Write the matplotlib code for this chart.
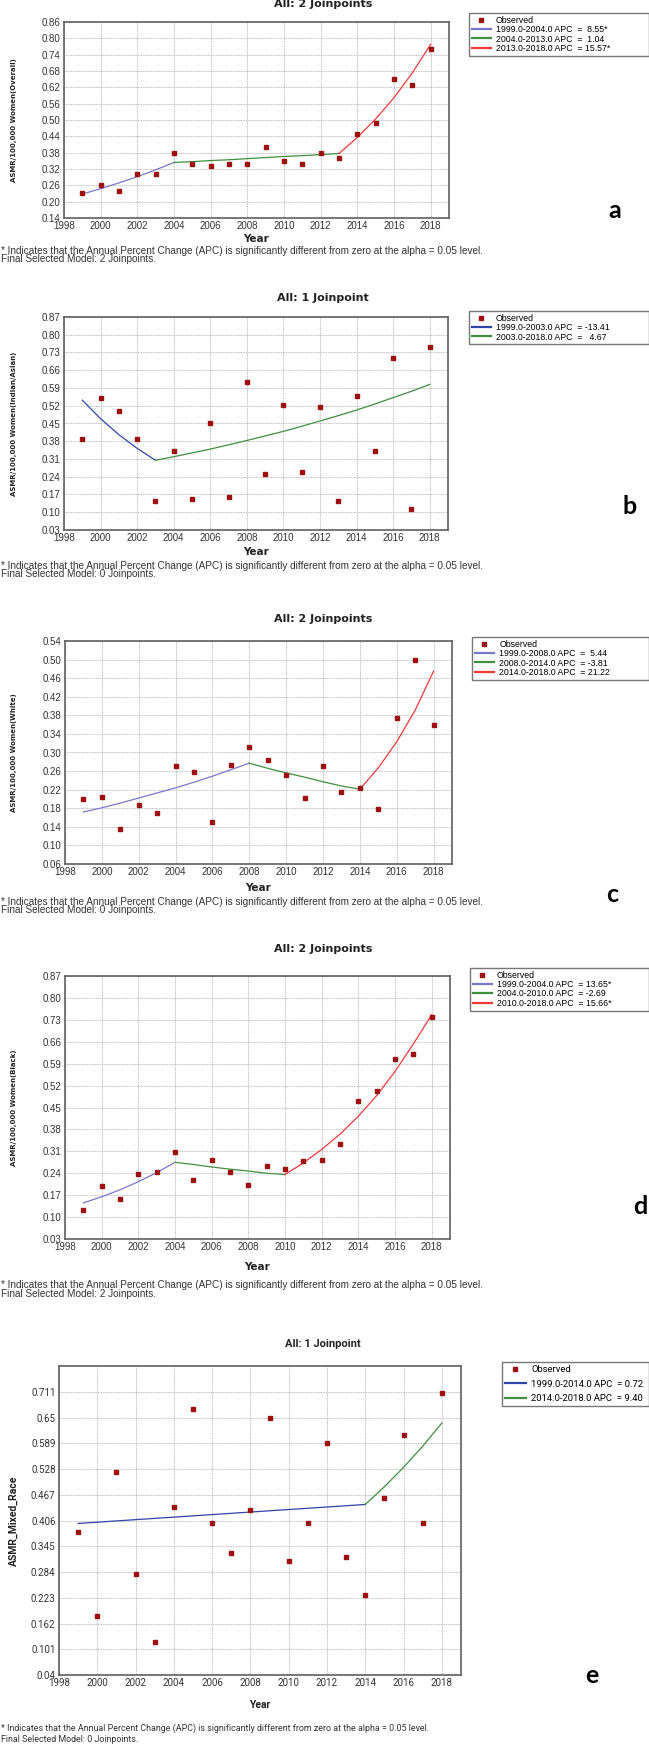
import matplotlib.pyplot as plt

W, H = 649, 1744

years = list(range(1999, 2019))
xticks = list(range(1998, 2019, 2))

# panel a - overall
obs_a = [0.23, 0.26, 0.24, 0.30, 0.30, 0.38, 0.34, 0.33, 0.34, 0.34,
         0.40, 0.35, 0.34, 0.38, 0.36, 0.45, 0.49, 0.65, 0.63, 0.76]
fit_a = [0.228, 0.248, 0.269, 0.292, 0.317, 0.344, 0.347, 0.351, 0.354, 0.358,
         0.362, 0.366, 0.369, 0.373, 0.377, 0.436, 0.504, 0.582, 0.673, 0.778]
joins_a = [1999, 2004, 2013, 2018]
labels_a = ["1999.0-2004.0 APC  =  8.55*", "2004.0-2013.0 APC  =  1.04",
            "2013.0-2018.0 APC  = 15.57*"]
yticks_a = [0.14, 0.20, 0.26, 0.32, 0.38, 0.44, 0.50, 0.56, 0.62, 0.68, 0.74, 0.80, 0.86]

# panel b - indian/asian
obs_b = [0.39, 0.55, 0.50, 0.39, 0.146, 0.341, 0.153, 0.453, 0.161, 0.614,
         0.251, 0.521, 0.257, 0.517, 0.143, 0.559, 0.342, 0.707, 0.113, 0.752]
fit_b = [0.542, 0.469, 0.406, 0.352, 0.305, 0.319, 0.334, 0.349, 0.366, 0.383,
         0.401, 0.419, 0.439, 0.460, 0.481, 0.503, 0.527, 0.552, 0.577, 0.604]
joins_b = [1999, 2003, 2018]
labels_b = ["1999.0-2003.0 APC  = -13.41", "2003.0-2018.0 APC  =   4.67"]
yticks_b = [0.03, 0.10, 0.17, 0.24, 0.31, 0.38, 0.45, 0.52, 0.59, 0.66, 0.73, 0.80, 0.87]

# panel c - white
obs_c = [0.199, 0.204, 0.136, 0.188, 0.170, 0.270, 0.259, 0.151, 0.274, 0.311,
         0.283, 0.251, 0.201, 0.271, 0.214, 0.223, 0.179, 0.374, 0.500, 0.359]
fit_c = [0.172, 0.181, 0.191, 0.202, 0.213, 0.224, 0.236, 0.249, 0.263, 0.277,
         0.266, 0.256, 0.247, 0.237, 0.228, 0.221, 0.267, 0.323, 0.391, 0.475]
joins_c = [1999, 2008, 2014, 2018]
labels_c = ["1999.0-2008.0 APC  =  5.44", "2008.0-2014.0 APC  = -3.81",
            "2014.0-2018.0 APC  = 21.22"]
yticks_c = [0.06, 0.10, 0.14, 0.18, 0.22, 0.26, 0.30, 0.34, 0.38, 0.42, 0.46, 0.50, 0.54]

# panel d - black
obs_d = [0.122, 0.199, 0.157, 0.238, 0.243, 0.308, 0.217, 0.282, 0.244, 0.201,
         0.262, 0.254, 0.280, 0.282, 0.334, 0.472, 0.503, 0.605, 0.622, 0.738]
fit_d = [0.145, 0.165, 0.187, 0.213, 0.242, 0.275, 0.268, 0.260, 0.253, 0.247,
         0.240, 0.236, 0.273, 0.316, 0.365, 0.422, 0.488, 0.565, 0.653, 0.746]
joins_d = [1999, 2004, 2010, 2018]
labels_d = ["1999.0-2004.0 APC  = 13.65*", "2004.0-2010.0 APC  = -2.69",
            "2010.0-2018.0 APC  = 15.66*"]
yticks_d = [0.03, 0.10, 0.17, 0.24, 0.31, 0.38, 0.45, 0.52, 0.59, 0.66, 0.73, 0.80, 0.87]

# panel e - mixed race
obs_e = [0.379, 0.179, 0.520, 0.279, 0.119, 0.439, 0.669, 0.399, 0.329, 0.430,
         0.649, 0.309, 0.399, 0.589, 0.319, 0.229, 0.459, 0.609, 0.399, 0.709]
fit_e = [0.399, 0.402, 0.405, 0.408, 0.411, 0.414, 0.417, 0.420, 0.423, 0.426,
         0.429, 0.432, 0.435, 0.438, 0.441, 0.444, 0.486, 0.532, 0.582, 0.637]
joins_e = [1999, 2014, 2018]
labels_e = ["1999.0-2014.0 APC  = 0.72", "2014.0-2018.0 APC  = 9.40"]
yticks_e = [0.04, 0.101, 0.162, 0.223, 0.284, 0.345, 0.406, 0.467, 0.528, 0.589, 0.65, 0.711]
ytlabels_e = ["0.04", "0.101", "0.162", "0.223", "0.284", "0.345", "0.406",
              "0.467", "0.528", "0.589", "0.65", "0.711"]

note1 = "* Indicates that the Annual Percent Change (APC) is significantly different from zero at the alpha = 0.05 level."

RED = "#9e1010"
BLUE_L = "#7777cc"
BLUE_D = "#2f45a8"
GREEN = "#3f8f3f"
ORANGE = "#f03a3a"

fig = plt.figure(figsize=(W / 100, H / 100), dpi=100)


def fx(x):
    return x / W


def fy(y):
    return 1 - y / H


def panel(box, obs, fit, joins, seg_colors, labels, yticks, ytlabels, ymax,
          ylabel, title, title_y, leg_box, letter, letter_xy, year_y, notes,
          font="Liberation Sans", tfont="DejaVu Sans", tsize=8, lsize=6.3,
          labelspacing=0.05, ylsize=5.0, ticksize=7, notesize=7.2):
    l, r, t, b = box
    ax = fig.add_axes([fx(l), fy(b), fx(r - l), (b - t) / H])
    ax.set_xlim(1998, 2019)
    ax.set_ylim(yticks[0], ymax)
    ax.set_xticks(xticks)
    ax.set_yticks(yticks)
    ax.set_yticklabels(ytlabels)
    for lab in ax.get_xticklabels() + ax.get_yticklabels():
        lab.set_fontfamily(font)
        lab.set_fontsize(ticksize)
        lab.set_color("#333333")
    ax.tick_params(length=0, pad=2.5)
    ax.grid(True, linestyle=(0, (1, 1)), color="#a8a8a8", linewidth=0.6)
    for s in ax.spines.values():
        s.set_color("#606060")
        s.set_linewidth(1.2)

    handles = []
    h, = ax.plot(years, obs, "s", color=RED, ms=3.4, zorder=4, label="Observed")
    handles.append(h)
    for i in range(len(joins) - 1):
        i0 = joins[i] - 1999
        i1 = joins[i + 1] - 1999
        ax.plot(years[i0:i1 + 1], fit[i0:i1 + 1], color=seg_colors[i], lw=0.9, zorder=3)
        hl, = ax.plot([], [], color=seg_colors[i], lw=1.6, label=labels[i])
        handles.append(hl)

    lx0, lx1, ly0, ly1 = leg_box
    leg = fig.legend(handles=handles, loc="upper left",
                     bbox_to_anchor=(fx(lx0), fy(ly1), fx(lx1 - lx0), (ly1 - ly0) / H),
                     mode="expand", fancybox=False, borderpad=0.3,
                     labelspacing=labelspacing, handlelength=2.2, handletextpad=0.6,
                     borderaxespad=0, prop={"family": font, "size": lsize})
    leg.get_frame().set_edgecolor("#555555")
    leg.get_frame().set_linewidth(1.0)

    fig.text(fx(323), fy(title_y), title, ha="center", va="center",
             family=tfont, weight="bold", fontsize=tsize, color="#222222")
    fig.text(fx((l + r) / 2), fy(year_y), "Year", ha="center", va="center",
             family=tfont, weight="bold", fontsize=7.5, color="#222222")
    fig.text(fx(14), fy((t + b) / 2), ylabel, rotation=90, ha="center", va="center",
             family=tfont, weight="bold", fontsize=ylsize, color="#222222")
    fig.text(fx(letter_xy[0]), fy(letter_xy[1]), letter, ha="center", va="center",
             family="Lato", weight="bold", fontsize=18, color="black")
    for (ny, txt) in notes:
        fig.text(fx(1), fy(ny), txt, ha="left", va="center",
                 family=font, fontsize=notesize, color="#333333")


def fmt2(vals):
    return ["%.2f" % v for v in vals]


panel((64, 449, 22, 218), obs_a, fit_a, joins_a, [BLUE_L, GREEN, ORANGE], labels_a,
      yticks_a, fmt2(yticks_a), 0.86, "ASMR/100,000 Women(Overall)",
      "All: 2 Joinpoints", 4, (469, 649, 13, 52), "a", (615, 211), 239,
      [(251, note1), (259, "Final Selected Model: 2 Joinpoints.")])

panel((64, 448, 317, 530), obs_b, fit_b, joins_b, [BLUE_D, GREEN], labels_b,
      yticks_b, fmt2(yticks_b), 0.87, "ASMR/100,000 Women(Indian/Asian)",
      "All: 1 Joinpoint", 298, (469, 649, 311, 342), "b", (630, 507), 552,
      [(566, note1), (574, "Final Selected Model: 0 Joinpoints.")])

panel((65, 452, 641, 864), obs_c, fit_c, joins_c, [BLUE_L, GREEN, ORANGE], labels_c,
      yticks_c, fmt2(yticks_c), 0.54, "ASMR/100,000 Women(White)",
      "All: 2 Joinpoints", 619, (472, 649, 637, 674), "c", (612, 894), 888,
      [(902, note1), (910, "Final Selected Model: 0 Joinpoints.")])

panel((65, 450, 976, 1239), obs_d, fit_d, joins_d, [BLUE_L, GREEN, ORANGE], labels_d,
      yticks_d, fmt2(yticks_d), 0.87, "ASMR/100,000 Women(Black)",
      "All: 2 Joinpoints", 949, (470, 649, 968, 1015), "d", (640, 1207), 1267,
      [(1285, note1), (1294, "Final Selected Model: 2 Joinpoints.")])

panel((59, 461, 1366, 1675), obs_e, fit_e, joins_e, [BLUE_D, GREEN], labels_e,
      yticks_e, ytlabels_e, 0.772, "ASMR_Mixed_Race",
      "All: 1 Joinpoint", 1344, (502, 649, 1362, 1414), "e", (592, 1675), 1705,
      [(1728, note1), (1739, "Final Selected Model: 0 Joinpoints.")],
      font="Roboto", tfont="Roboto", tsize=8, lsize=6.8, labelspacing=0.6,
      ylsize=7.5, ticksize=7, notesize=6.4)

fig.savefig("out.png", dpi=100)
